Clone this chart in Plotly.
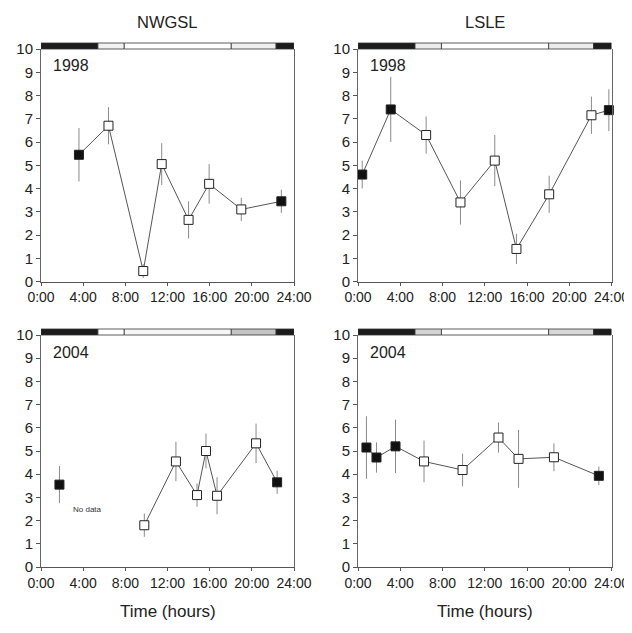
import plotly.graph_objects as go

# ---------------- data ----------------
x_tick_vals = [0, 4, 8, 12, 16, 20, 24]
x_tick_text = ["0:00", "4:00", "8:00", "12:00", "16:00", "20:00", "24:00"]
y_tick_vals = [0, 1, 2, 3, 4, 5, 6, 7, 8, 9, 10]
y_tick_text = ["0", "1", "2", "3", "4", "5", "6", "7", "8", "9", "10"]

site_titles = ["NWGSL", "LSLE"]
year_labels = ["1998", "1998", "2004", "2004"]

# NWGSL 1998
nwgsl_1998_hours = [3.6, 6.4, 9.7, 11.45, 14.0, 15.95, 19.0, 22.8]
nwgsl_1998_values = [5.45, 6.7, 0.45, 5.05, 2.65, 4.2, 3.1, 3.45]
nwgsl_1998_err = [1.15, 0.8, 0.3, 0.9, 0.8, 0.85, 0.5, 0.5]
nwgsl_1998_night = [1, 0, 0, 0, 0, 0, 0, 1]

# LSLE 1998
lsle_1998_hours = [0.4, 3.1, 6.45, 9.7, 12.95, 15.0, 18.1, 22.1, 23.75]
lsle_1998_values = [4.6, 7.4, 6.3, 3.4, 5.2, 1.4, 3.75, 7.15, 7.37]
lsle_1998_err = [0.6, 1.4, 0.8, 0.95, 1.1, 0.65, 0.8, 0.8, 0.9]
lsle_1998_night = [1, 1, 0, 0, 0, 0, 0, 0, 1]

# NWGSL 2004 (no data between ~2h and ~9h)
nwgsl_2004_hours = [1.75, 9.8, 12.8, 14.8, 15.65, 16.7, 20.4, 22.4]
nwgsl_2004_values = [3.55, 1.8, 4.55, 3.1, 5.0, 3.07, 5.33, 3.65]
nwgsl_2004_err = [0.8, 0.5, 0.85, 0.5, 0.75, 0.8, 0.85, 0.5]
nwgsl_2004_night = [1, 0, 0, 0, 0, 0, 0, 1]

# LSLE 2004
lsle_2004_hours = [0.8, 1.75, 3.55, 6.25, 9.9, 13.3, 15.2, 18.55, 22.8]
lsle_2004_values = [5.15, 4.72, 5.2, 4.55, 4.18, 5.58, 4.66, 4.73, 3.93]
lsle_2004_err = [1.35, 0.65, 1.15, 0.9, 0.7, 0.65, 1.25, 0.6, 0.4]
lsle_2004_night = [1, 1, 1, 0, 0, 0, 0, 0, 1]

# light-regime bar boundaries (hours): night, dawn, day, dusk, night
phase_bounds = [0, 5.4, 7.9, 18.05, 22.3, 24]
phase_colors_nwgsl_1998 = ["#1c1c1c", "#f2f2f2", "#ffffff", "#efefef", "#1c1c1c"]
phase_colors_lsle_1998 = ["#1c1c1c", "#ececec", "#ffffff", "#ececec", "#1c1c1c"]
phase_colors_nwgsl_2004 = ["#1c1c1c", "#ffffff", "#f6f6f6", "#c4c4c4", "#1c1c1c"]
phase_colors_lsle_2004 = ["#1c1c1c", "#d4d4d4", "#ffffff", "#d8d8d8", "#1c1c1c"]

nodata_label = "No data"
nodata_pos = (4.4, 2.5)
x_title = "Time (hours)"

# ---------------- layout ----------------
# the page body adds an 8px margin, so the figure is drawn 8px smaller and
# every page-pixel position below is shifted by that offset
OFF = 8
W, H = 632 - OFF, 633 - OFF
FONT = "Liberation Sans, Arial, sans-serif"

col_px = [(41 - OFF, 294 - OFF), (358 - OFF, 611.5 - OFF)]
row_px = [(49 - OFF, 281.5 - OFF), (335 - OFF, 567 - OFF)]  # top, bottom

panels = [
    dict(r=0, c=0, h=nwgsl_1998_hours, v=nwgsl_1998_values, e=nwgsl_1998_err,
         n=nwgsl_1998_night, start=0, colors=phase_colors_nwgsl_1998),
    dict(r=0, c=1, h=lsle_1998_hours, v=lsle_1998_values, e=lsle_1998_err,
         n=lsle_1998_night, start=0, colors=phase_colors_lsle_1998),
    dict(r=1, c=0, h=nwgsl_2004_hours, v=nwgsl_2004_values, e=nwgsl_2004_err,
         n=nwgsl_2004_night, start=1, colors=phase_colors_nwgsl_2004),
    dict(r=1, c=1, h=lsle_2004_hours, v=lsle_2004_values, e=lsle_2004_err,
         n=lsle_2004_night, start=0, colors=phase_colors_lsle_2004),
]

fig = go.Figure()
layout = dict(
    width=W, height=H, margin=dict(l=0, r=0, t=0, b=0, pad=0, autoexpand=False),
    paper_bgcolor="white", plot_bgcolor="white", showlegend=False,
    font=dict(family=FONT, color="#222"),
)
shapes = []
annotations = []

for i, p in enumerate(panels):
    k = i + 1
    xa = "xaxis" if k == 1 else f"xaxis{k}"
    ya = "yaxis" if k == 1 else f"yaxis{k}"
    xr = "x" if k == 1 else f"x{k}"
    yr = "y" if k == 1 else f"y{k}"
    x0p, x1p = col_px[p["c"]]
    topp, botp = row_px[p["r"]]
    layout[xa] = dict(
        domain=[x0p / W, x1p / W], anchor=yr, range=[0, 24], automargin=False,
        tickvals=x_tick_vals, ticktext=x_tick_text,
        ticks="outside", ticklen=3, tickcolor="#555", tickwidth=1,
        showline=True, linecolor="#555", linewidth=1, mirror=False,
        showgrid=False, zeroline=False,
        tickfont=dict(family=FONT, size=14, color="#222"),
    )
    layout[ya] = dict(
        domain=[1 - botp / H, 1 - topp / H], anchor=xr, range=[0, 10], automargin=False,
        tickvals=y_tick_vals, ticktext=y_tick_text,
        ticks="outside", ticklen=4, tickcolor="#555", tickwidth=1,
        showline=True, linecolor="#666", linewidth=1, mirror=True,
        showgrid=False, zeroline=False,
        tickfont=dict(family=FONT, size=15, color="#222"),
    )

    # connecting line
    hs, vs = p["h"][p["start"]:], p["v"][p["start"]:]
    fig.add_trace(go.Scatter(x=hs, y=vs, mode="lines", xaxis=xr, yaxis=yr,
                             line=dict(color="#555", width=1), hoverinfo="skip",
                             cliponaxis=False))
    # points with error bars
    fills = ["#111" if n else "white" for n in p["n"]]
    fig.add_trace(go.Scatter(
        x=p["h"], y=p["v"], mode="markers", xaxis=xr, yaxis=yr,
        error_y=dict(type="data", array=p["e"], visible=True, width=0,
                     thickness=1, color="#8a8a8a"),
        marker=dict(symbol="square", size=9, color=fills,
                    line=dict(color="#222", width=1)),
        cliponaxis=False,
    ))

    # light-regime bar above each panel
    for j in range(len(p["colors"])):
        shapes.append(dict(
            type="rect", xref=xr, yref=f"{yr} domain",
            x0=phase_bounds[j], x1=phase_bounds[j + 1],
            y0=1.0, y1=1.0 + 6 / (botp - topp),
            fillcolor=p["colors"][j], line=dict(color="#333", width=0.8),
            layer="above",
        ))

    # year label
    annotations.append(dict(
        text=year_labels[i], xref="paper", yref="paper",
        x=(x0p + 10) / W, y=1 - (topp + 17) / H,
        xanchor="left", yanchor="middle", showarrow=False,
        font=dict(family=FONT, size=16, color="#222"),
    ))

    # x-axis title under bottom row
    if p["r"] == 1:
        annotations.append(dict(
            text=x_title, xref="paper", yref="paper",
            x=(x0p + x1p) / 2 / W, y=1 - (611 - OFF) / H,
            xanchor="center", yanchor="middle", showarrow=False,
            font=dict(family=FONT, size=17, color="#222"),
        ))

# column titles
for c, t in enumerate(site_titles):
    x0p, x1p = col_px[c]
    annotations.append(dict(
        text=t, xref="paper", yref="paper", x=(x0p + x1p) / 2 / W, y=1 - (22 - OFF) / H,
        xanchor="center", yanchor="middle", showarrow=False,
        font=dict(family=FONT, size=16.5, color="#222"),
    ))

# no data note
annotations.append(dict(
    text=nodata_label, xref="x3", yref="y3", x=nodata_pos[0], y=nodata_pos[1],
    showarrow=False, xanchor="center", yanchor="middle",
    font=dict(family=FONT, size=8, color="#333"),
))

layout["shapes"] = shapes
layout["annotations"] = annotations
fig.update_layout(**layout)
fig.write_html("out.html")
